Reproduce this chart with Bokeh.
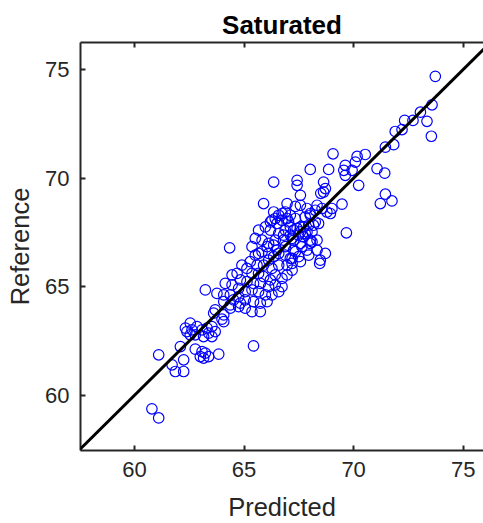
from bokeh.plotting import figure
from bokeh.models import Range1d, FixedTicker, LinearAxis, Slope
from bokeh.embed import file_html
from bokeh.resources import INLINE

# Predicted (x) and Reference (y) values
predicted = [
    73.73, 73.58, 73.05, 73.35, 73.55, 72.71, 72.33, 72.21, 71.90, 71.45,
    71.83, 70.53, 70.16, 70.08, 69.62, 69.55, 69.93, 69.62, 69.06, 68.86,
    68.02, 71.07, 71.42, 70.23, 71.45, 71.22, 71.75, 69.67, 68.63, 68.71,
    68.63, 69.47, 69.01, 68.78, 68.33, 68.25, 68.02, 67.87, 67.79, 68.40,
    68.17, 67.87, 67.72, 68.10, 67.57,
    66.35, 67.42, 67.42, 68.50, 65.89, 66.96, 67.34, 66.35, 66.58, 66.88,
    67.11, 66.73, 66.27, 66.50, 67.03, 67.34, 68.02, 68.25, 67.95, 67.57,
    67.26, 66.88, 66.58, 66.20, 65.97, 65.66, 65.82, 65.51, 65.36, 65.66,
    66.12, 66.42, 66.80, 67.19, 67.49, 67.79, 68.10, 68.33, 68.02, 67.64,
    67.26, 66.88, 66.50, 66.12, 68.33, 68.71, 67.95, 67.49, 67.19, 68.48,
    64.34, 66.20, 66.42, 66.96, 67.11, 66.80, 67.11, 66.05, 66.35, 67.26,
    67.34, 67.11, 66.88, 66.58, 66.35, 66.12, 65.82, 65.51, 65.28, 65.59,
    65.89, 66.27, 66.58, 66.96, 67.19, 66.96, 66.73, 66.42, 66.20, 65.89,
    65.66, 65.36, 65.13, 64.90, 64.68, 64.45, 64.83, 65.13, 65.43, 65.74,
    66.12, 66.42, 66.73, 66.58, 66.27, 65.97, 65.66, 65.36, 65.05, 64.75,
    64.45, 64.14, 63.76, 63.23, 64.07, 64.37, 64.75, 65.05, 65.43, 65.74,
    66.05, 65.36, 65.05, 64.75, 64.37, 64.07, 63.68, 65.74,
    67.57, 68.56, 68.94, 67.72, 67.42, 67.57, 68.02, 67.57, 67.87, 67.57,
    67.19, 68.45,
    63.61, 63.99, 64.07, 62.54, 62.32, 62.39, 62.62, 62.85, 62.54, 63.31,
    63.53, 63.68, 63.38, 63.15, 63.53, 62.09, 62.77, 63.08, 63.23, 63.00,
    63.15, 63.38, 63.84, 61.10, 62.24, 61.71, 61.86, 62.24, 65.43, 60.79,
    61.10, 64.52, 64.83, 64.37, 64.07, 62.77, 63.08, 66.73,
]
reference = [
    74.69, 73.38, 73.04, 72.62, 71.93, 72.66, 72.66, 72.24, 72.15, 71.43,
    71.54, 71.09, 71.00, 70.74, 70.59, 70.36, 70.36, 70.13, 71.12, 70.40,
    70.40, 70.44, 70.23, 69.67, 69.26, 68.83, 68.95, 67.48, 69.82, 69.52,
    69.36, 68.80, 68.60, 68.44, 68.75, 68.52, 68.37, 68.60, 68.21, 67.91,
    67.83, 67.52, 67.29, 67.06, 69.21,
    69.82, 69.90, 69.67, 69.30, 68.83, 68.83, 68.70, 68.44, 68.29, 68.44,
    68.29, 68.06, 68.06, 67.91, 67.98, 68.14, 68.29, 67.98, 67.83, 67.75,
    67.60, 67.60, 67.45, 67.60, 67.75, 67.60, 67.14, 67.22, 66.84, 66.53,
    66.99, 67.14, 67.14, 67.22, 67.37, 67.45, 67.52, 67.14, 66.99, 66.84,
    66.68, 66.84, 66.68, 66.53, 66.68, 66.53, 66.45, 66.38, 66.30, 66.22,
    66.79, 67.98, 68.14, 68.14, 67.75, 67.37, 67.37, 66.84, 66.91, 67.14,
    66.61, 66.30, 66.45, 66.53, 66.38, 66.22, 66.61, 66.45, 66.15, 65.99,
    65.99, 65.84, 65.99, 65.99, 65.76, 65.54, 65.38, 65.54, 65.31, 65.46,
    65.61, 65.61, 65.84, 65.99, 65.61, 65.54, 65.31, 65.23, 65.15, 65.15,
    65.00, 65.08, 65.00, 64.77, 64.62, 64.62, 64.77, 64.85, 64.77, 64.92,
    65.08, 65.15, 64.69, 64.85, 64.62, 64.62, 64.54, 64.39, 64.31, 64.24,
    64.31, 63.85, 64.01, 64.08, 64.16, 64.31, 63.93, 63.85,
    68.75, 68.60, 68.37, 67.75, 67.68, 67.52, 67.14, 66.99, 66.68, 66.15,
    66.07, 66.07,
    63.78, 63.50, 63.39, 63.32, 63.09, 62.93, 63.01, 63.16, 62.78, 63.09,
    63.16, 62.93, 62.86, 62.70, 62.70, 62.24, 62.12, 62.01, 61.94, 61.78,
    61.71, 61.78, 61.89, 61.86, 61.63, 61.40, 61.09, 61.09, 62.27, 59.37,
    58.95, 64.39, 64.24, 64.01, 63.70, 62.78, 63.01, 68.37,
]
tick_values = [60, 65, 70, 75]
x_limits = (57.53, 75.93)
y_limits = (57.45, 76.25)

AX = "#262626"
FONT = "Liberation Sans"

p = figure(width=483, height=523, output_backend="svg", toolbar_location=None,
           x_range=Range1d(*x_limits), y_range=Range1d(*y_limits),
           min_border_left=80, min_border_right=0, min_border_top=42,
           min_border_bottom=72, title="Saturated",
           x_axis_label="Predicted", y_axis_label="Reference")
p.grid.visible = False
p.outline_line_color = None
p.background_fill_color = "white"
p.border_fill_color = "white"

p.title.align = "center"
p.title.text_font = FONT
p.title.text_font_size = "26px"
p.title.text_font_style = "bold"
p.title.text_color = "black"
p.title.standoff = 6


def style(ax):
    ax.ticker = FixedTicker(ticks=tick_values)
    ax.axis_line_color = AX
    ax.axis_line_width = 2
    ax.major_tick_line_color = AX
    ax.major_tick_line_width = 2
    ax.major_tick_in = 5
    ax.major_tick_out = 0
    ax.minor_tick_line_color = None
    ax.major_label_text_font = FONT
    ax.major_label_text_font_size = "22px"
    ax.major_label_text_color = AX
    ax.axis_label_text_font = FONT
    ax.axis_label_text_font_size = "25.5px"
    ax.axis_label_text_font_style = "normal"
    ax.axis_label_text_color = AX


style(p.xaxis[0])
p.xaxis[0].major_label_standoff = 11
p.xaxis[0].axis_label_standoff = 13
style(p.yaxis[0])
p.yaxis[0].major_label_standoff = 11
p.yaxis[0].axis_label_standoff = 8

# top border of the box: ticks only, no labels
top = LinearAxis(major_label_standoff=0)
style(top)
top.major_label_text_color = None
top.major_label_text_font_size = "0px"
p.add_layout(top, "above")

p.scatter(predicted, reference, marker="circle", size=10.5, fill_color=None,
          line_color="#0000FF", line_width=1.2)

p.add_layout(Slope(gradient=1, y_intercept=0, line_color="black", line_width=3))

open("out.html", "w").write(file_html(p, INLINE))
